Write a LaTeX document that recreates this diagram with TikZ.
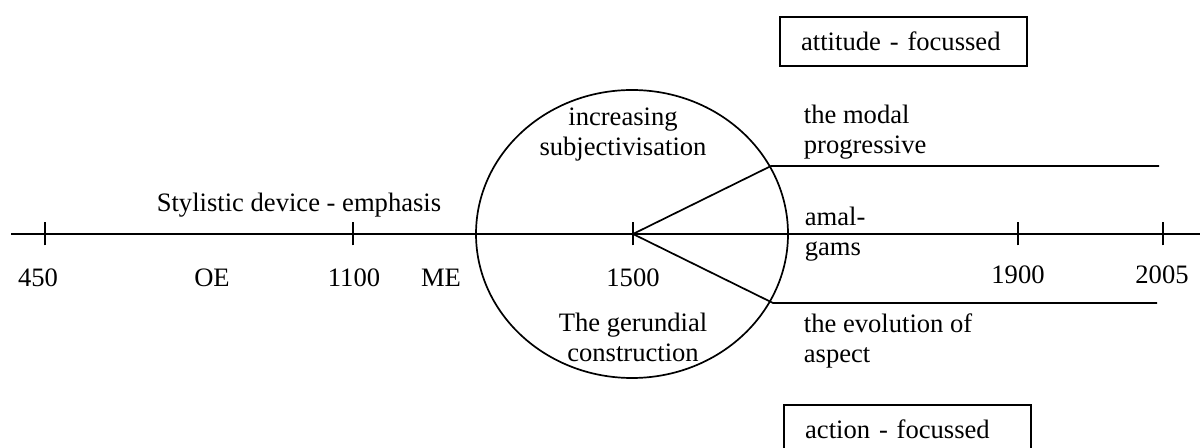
\documentclass[tikz,border=0pt]{standalone}
\usepackage{fontspec}
\setmainfont{Liberation Serif}
\usepackage{tikz}
\usetikzlibrary{positioning}
\tikzset{year label/.style={anchor=base, inner sep=0pt},
         era text/.style={align=center, inner sep=0pt},
         branch text/.style={align=left, anchor=west, inner sep=0pt},
         focus box/.style={draw, thick, anchor=north west, align=left, text width=96pt,
                           inner xsep=10pt, inner ysep=0pt, minimum height=23pt},
         year tick/.style={draw, thick},}

\begin{document}
\begin{tikzpicture}[x=0.47pt, y=-0.47pt, thick, font=\fontsize{12.5}{14.1}\selectfont]
        \useasboundingbox (0,0) rectangle (1200,448);
        % Timeline
        \coordinate (start) at (11,234);
        \coordinate (end) at (1200,234);
        \coordinate (y450) at (45,234);
        \coordinate (y1100) at (353,234);
        \coordinate (y1500) at (633,234);
        \coordinate (y1900) at (1018,234);
        \coordinate (y2005) at (1163,234);
        \draw (start) -- (end);
        \foreach \t in {y450, y1100, y1500, y1900, y2005}
            \path[year tick] ([yshift=-11.5*0.47pt]\t) -- ([yshift=11.5*0.47pt]\t);
        % Circle of change
        \draw (632,234) ellipse [x radius=156, y radius=144];
        % Years and periods
        \node[year label] (l450) at (38,287) {450};
        \node[year label] (oe) at (212,287) {OE};
        \node[year label] (l1100) at (354,287) {1100};
        \node[year label] (me) at (441,287) {ME};
        \node[year label] (l1500) at (633,287) {1500};
        \node[year label] (l1900) at (1018,284) {1900};
        \node[year label] (l2005) at (1162,284) {2005};
        \node[year label] (style) at (299,212) {Stylistic device - emphasis};
        % Inside the circle
        \node[era text] (subj) at (623,135) {increasing\\subjectivisation};
        \node[era text] (gerund) at (633,337) {The gerundial\\construction};
        % Branches
        \coordinate (upjoin) at (771,166);
        \coordinate (upend) at (1159,166);
        \coordinate (lowjoin) at (773,303);
        \coordinate (lowend) at (1157,303);
        \draw (y1500) -- (upjoin) -- (upend);
        \draw (y1500) -- (lowjoin) -- (lowend);
        \node[branch text] (modal) at (803,132) {the modal\\progressive};
        \node[branch text] (amalgams) at (804,234) {amal-\\gams};
        \node[branch text] (aspect) at (803,341) {the evolution of\\aspect};
        % Focus boxes
        \node[focus box] (attitude) at (779,16) {attitude - focussed};
        \node[focus box] (action) at (783,404) {action - focussed};
    \end{tikzpicture}
\end{document}
